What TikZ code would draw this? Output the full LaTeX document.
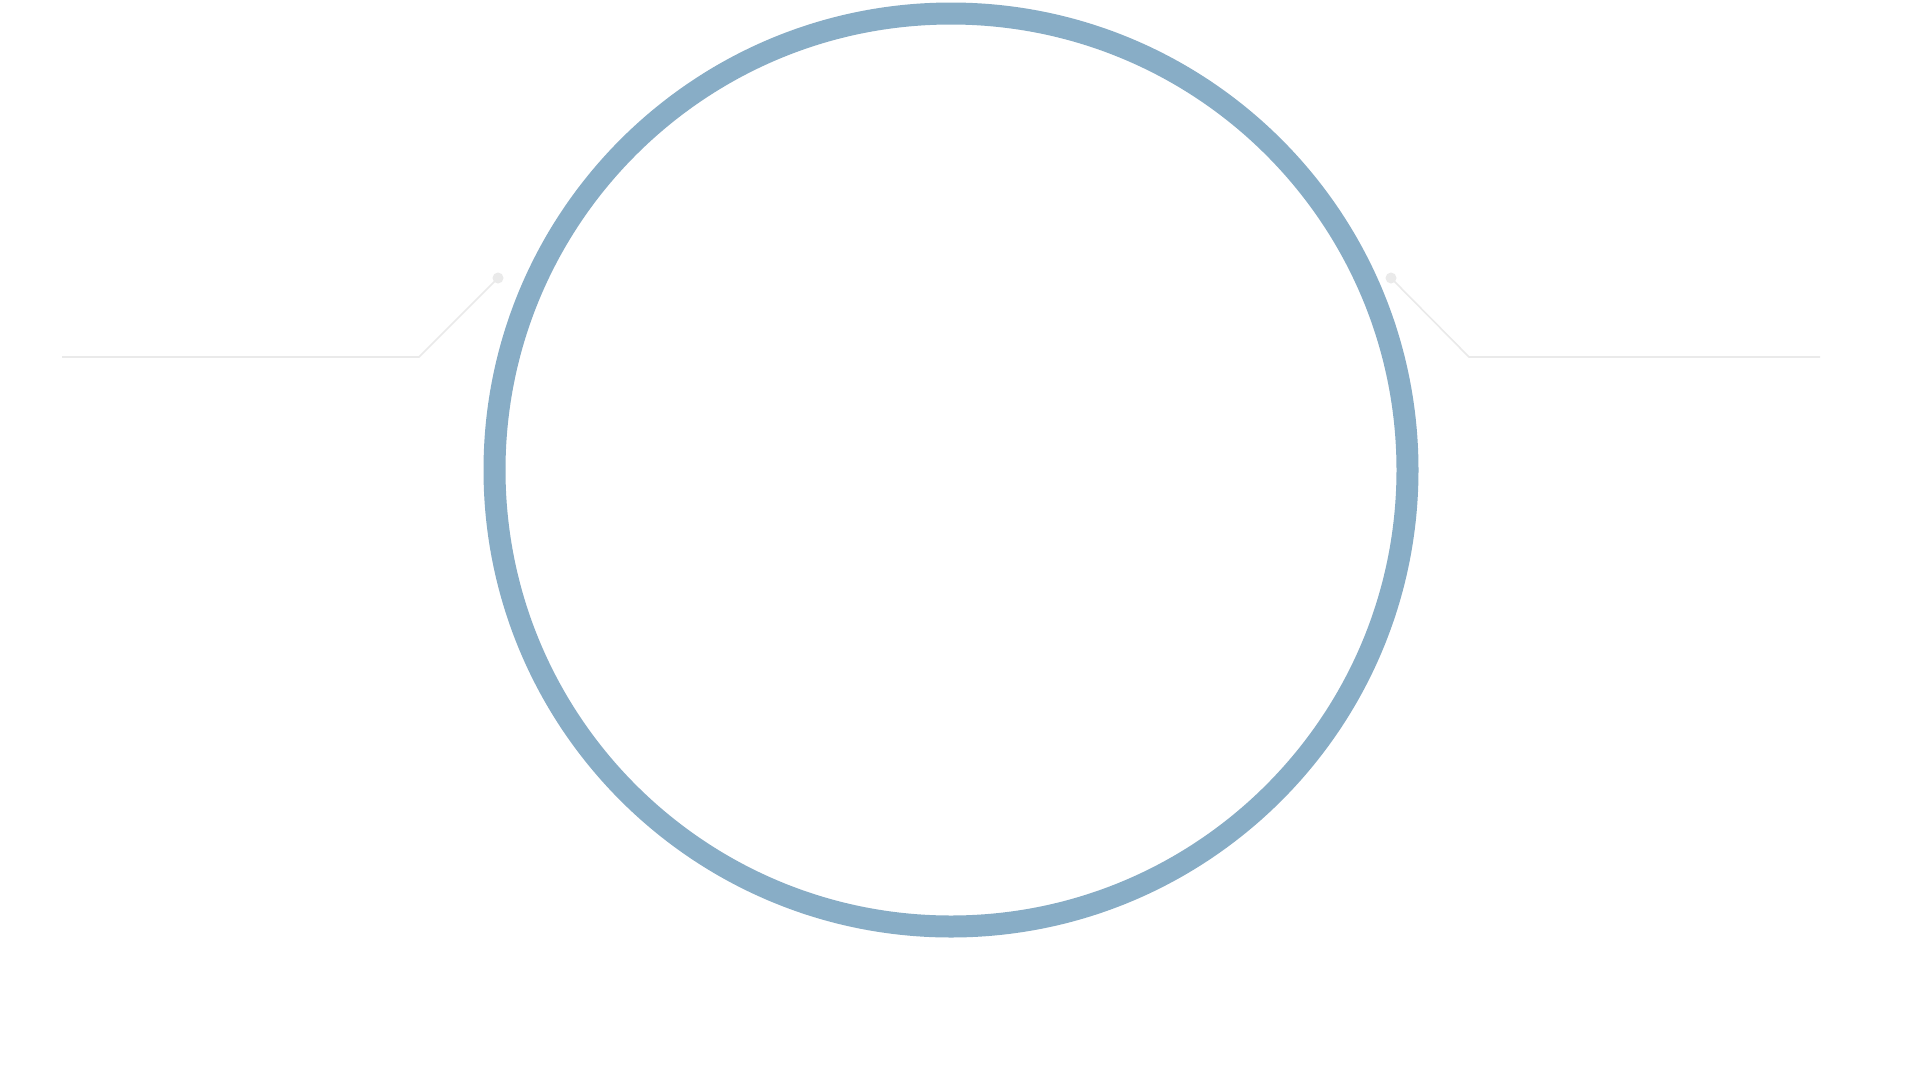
\documentclass[tikz,border=0pt]{standalone}
\usepackage{tikz}
\definecolor{ringblue}{RGB}{136,173,198}
\definecolor{leadgray}{RGB}{234,234,234}
\tikzset{
  ring/.style={draw=ringblue, line width=22pt},
  leader/.style={draw=leadgray, line width=1.6pt, line join=miter},
  enddot/.style={circle, fill=leadgray, inner sep=0pt, minimum size=11pt}
}
\begin{document}
\begin{tikzpicture}[x=1pt,y=-1pt]
\useasboundingbox (0,0) rectangle (1920,1080);
\fill[white] (0,0) rectangle (1920,1080);
\draw[ring] (951,470) circle[radius=456.5];
% left leader
\coordinate (lend) at (62,357);
\coordinate (lcorner) at (419,357);
\node[enddot] (ldot) at (498,278) {};
\draw[leader] (lend) -- (lcorner) -- (ldot.center);
% right leader
\coordinate (rend) at (1820,357);
\coordinate (rcorner) at (1469,357);
\node[enddot] (rdot) at (1391,278) {};
\draw[leader] (rend) -- (rcorner) -- (rdot.center);
\end{tikzpicture}
\end{document}
